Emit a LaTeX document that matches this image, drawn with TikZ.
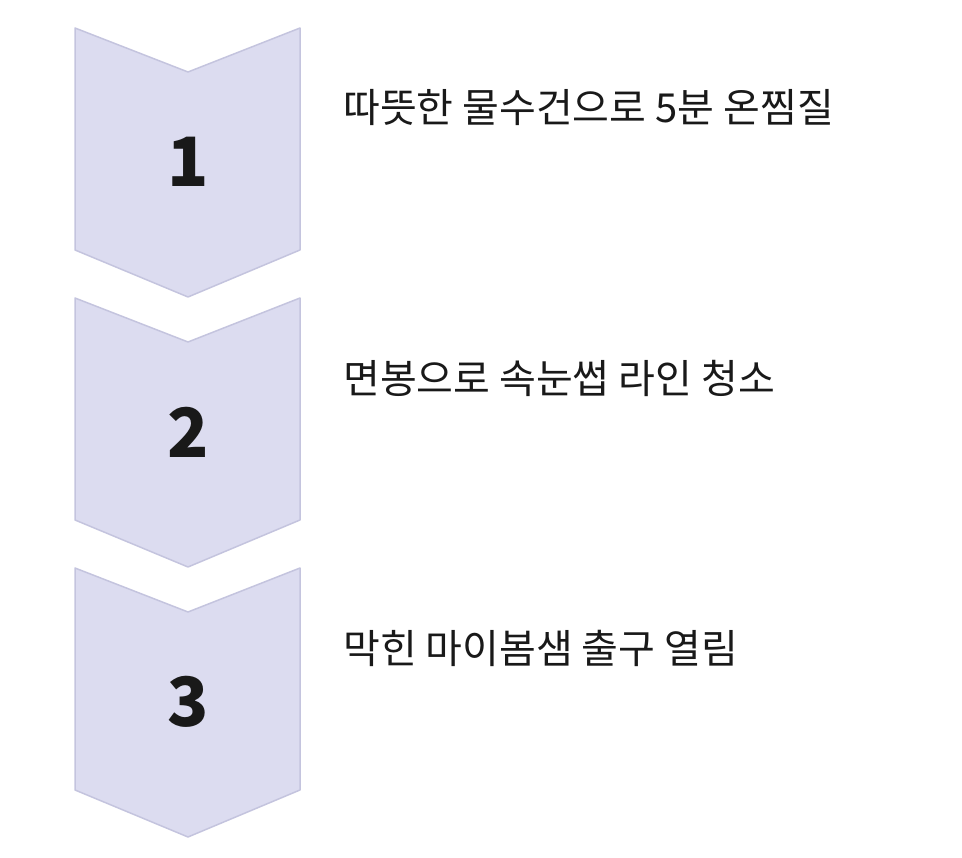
\documentclass[tikz,border=0pt]{standalone}
\usepackage{fontspec}
\newfontfamily\kr{Noto Sans CJK KR}
\definecolor{chfill}{HTML}{DCDCF0}
\definecolor{chline}{HTML}{C4C4DE}
\begin{document}
\begin{tikzpicture}[x=1pt,y=-1pt,
  chev/.style={fill=chfill,draw=chline,line width=1.5pt,line join=round},
  num/.style={font=\kr\bfseries\fontsize{68}{68}\selectfont,text=black!90},
  lbl/.style={font=\kr\fontsize{40}{44}\selectfont,anchor=west,text=black!90,inner sep=0pt}]
\useasboundingbox (0,0) rectangle (962,858);
\foreach \i/\t/\o in {1/따뜻한 물수건으로 5분 온찜질/0,2/면봉으로 속눈썹 라인 청소/270,3/막힌 마이봄샘 출구 열림/540}{
  \draw[chev] (75,28+\o) -- (188,72+\o) -- (300,28+\o) -- (300,250+\o) -- (188,297+\o) -- (75,250+\o) -- cycle;
  \node[num] (n\i) at (188,162+\o) {\i};
  \node[lbl] (t\i) at (343,108+\o) {\t};
}
\end{tikzpicture}
\end{document}
